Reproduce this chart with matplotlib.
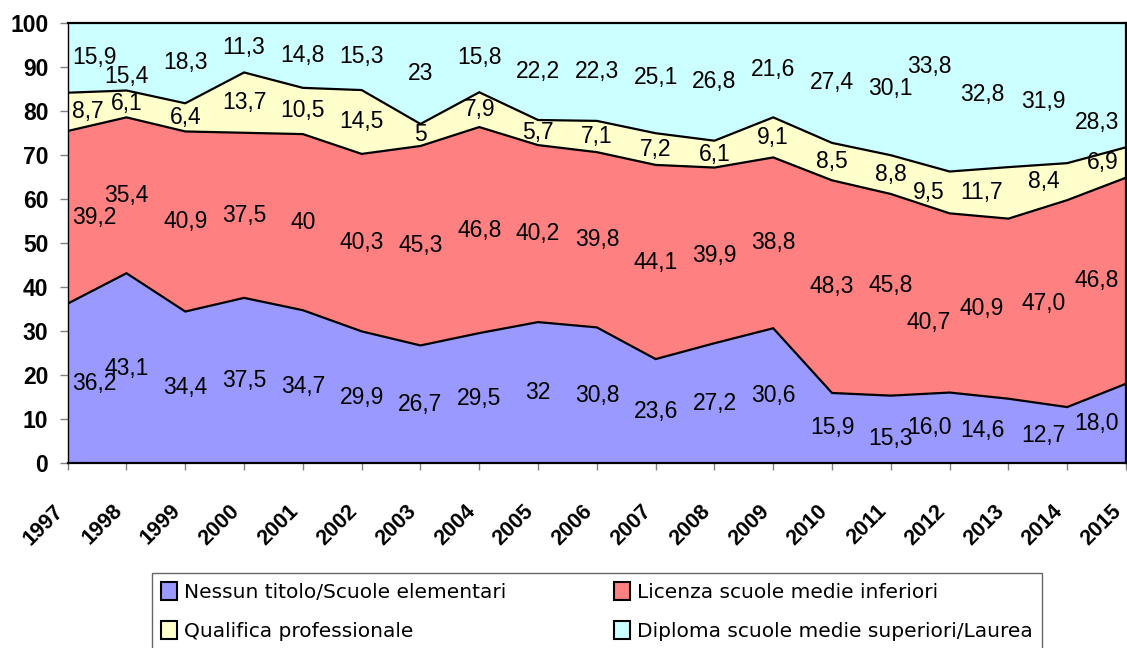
import matplotlib.pyplot as plt
import matplotlib.transforms as mtransforms
import numpy as np

years = list(range(1997, 2016))
nessun = [36.2, 43.1, 34.4, 37.5, 34.7, 29.9, 26.7, 29.5, 32, 30.8, 23.6, 27.2, 30.6,
          15.9, 15.3, 16.0, 14.6, 12.7, 18.0]
licenza = [39.2, 35.4, 40.9, 37.5, 40, 40.3, 45.3, 46.8, 40.2, 39.8, 44.1, 39.9, 38.8,
           48.3, 45.8, 40.7, 40.9, 47.0, 46.8]
qualifica = [8.7, 6.1, 6.4, 13.7, 10.5, 14.5, 5, 7.9, 5.7, 7.1, 7.2, 6.1, 9.1,
             8.5, 8.8, 9.5, 11.7, 8.4, 6.9]
diploma = [15.9, 15.4, 18.3, 11.3, 14.8, 15.3, 23, 15.8, 22.2, 22.3, 25.1, 26.8, 21.6,
           27.4, 30.1, 33.8, 32.8, 31.9, 28.3]
names = ["Nessun titolo/Scuole elementari", "Licenza scuole medie inferiori",
         "Qualifica professionale", "Diploma scuole medie superiori/Laurea"]
colors = ["#9999FF", "#FF8080", "#FFFFCC", "#CCFFFF"]

# label tweaks as in the original (vertical nudges, and the last years sit left of the tick)
nudge = {(3, 1): -4.5, (3, 17): -2.0, (3, 18): -8.5, (3, 15): 7.0,
         (0, 14): -2.0, (1, 14): 2.0, (1, 15): -4.5}
shift = {2012: -0.35, 2013: -0.45, 2014: -0.4}

W, H = 1127, 648
fig = plt.figure(figsize=(W / 100, H / 100), dpi=100)
ax = fig.add_axes([67.7 / W, 1 - 463 / H, (1126 - 67.7) / W, (463 - 22.7) / H])

x = np.arange(len(years))
series = [nessun, licenza, qualifica, diploma]
ax.stackplot(x, *series, colors=colors, linewidth=0)
cum = np.cumsum(np.array(series), axis=0)
for top in cum[:3]:
    ax.plot(x, top, color="black", lw=1.6, solid_joinstyle="miter")


def fmt(v, yr):
    if yr >= 2012 or v != int(v):
        return f"{v:.1f}".replace(".", ",")
    return str(int(v))


bottoms = np.vstack([np.zeros(len(years)), cum[:-1]])
for s, vals in enumerate(series):
    for i, v in enumerate(vals):
        ha = "center"
        xi = x[i] + shift.get(years[i], 0)
        if i == 0:
            ha, xi = "left", x[i] + 0.08
        elif i == len(years) - 1:
            ha, xi = "right", x[i] - 0.12
        yi = bottoms[s][i] + v / 2 + nudge.get((s, i), 0)
        ax.text(xi, yi, fmt(v, years[i]), ha=ha, va="center",
                fontsize=16.5, family="Liberation Sans")

ax.set_xlim(0, len(years) - 1)
ax.set_ylim(0, 100)
ax.set_yticks(range(0, 101, 10))
ax.set_xticks(x)
ax.set_xticklabels(years, rotation=45, ha="right", va="top")
for lab in ax.get_xticklabels():
    lab.set_transform(lab.get_transform() +
                      mtransforms.ScaledTranslation(-16 / 100, 0, fig.dpi_scale_trans))
    lab.set_fontsize(15.5)
for lab in ax.get_yticklabels():
    lab.set_fontsize(16.5)
for lab in ax.get_xticklabels() + ax.get_yticklabels():
    lab.set_fontweight("bold")
    lab.set_family("Liberation Sans")

ax.tick_params(axis="y", direction="out", length=6, width=1, color="#808080", pad=8)
ax.tick_params(axis="x", direction="out", length=5, width=1, color="#808080", pad=22)
for sp in ax.spines.values():
    sp.set_color("black")
    sp.set_linewidth(1.6)
ax.spines["left"].set_linewidth(1.0)

# legend is filled row by row in the original
order = [0, 2, 1, 3]
handles = [plt.Rectangle((0, 0), 1, 1, facecolor=colors[k], edgecolor="black", lw=1.5)
           for k in order]
leg = fig.legend(handles, [names[k] for k in order], loc="upper left", ncol=2, mode="expand",
                 bbox_to_anchor=(152 / W, 0, (1042 - 152) / W, 1 - 573 / H),
                 borderaxespad=0, fancybox=False, edgecolor="#404040",
                 prop={"family": "DejaVu Sans", "size": 14.5},
                 handlelength=0.8, handleheight=1.0, handletextpad=0.35,
                 labelspacing=0.95, borderpad=0.45)
leg.get_frame().set_linewidth(1.0)

fig.savefig("out.png", dpi=100)
